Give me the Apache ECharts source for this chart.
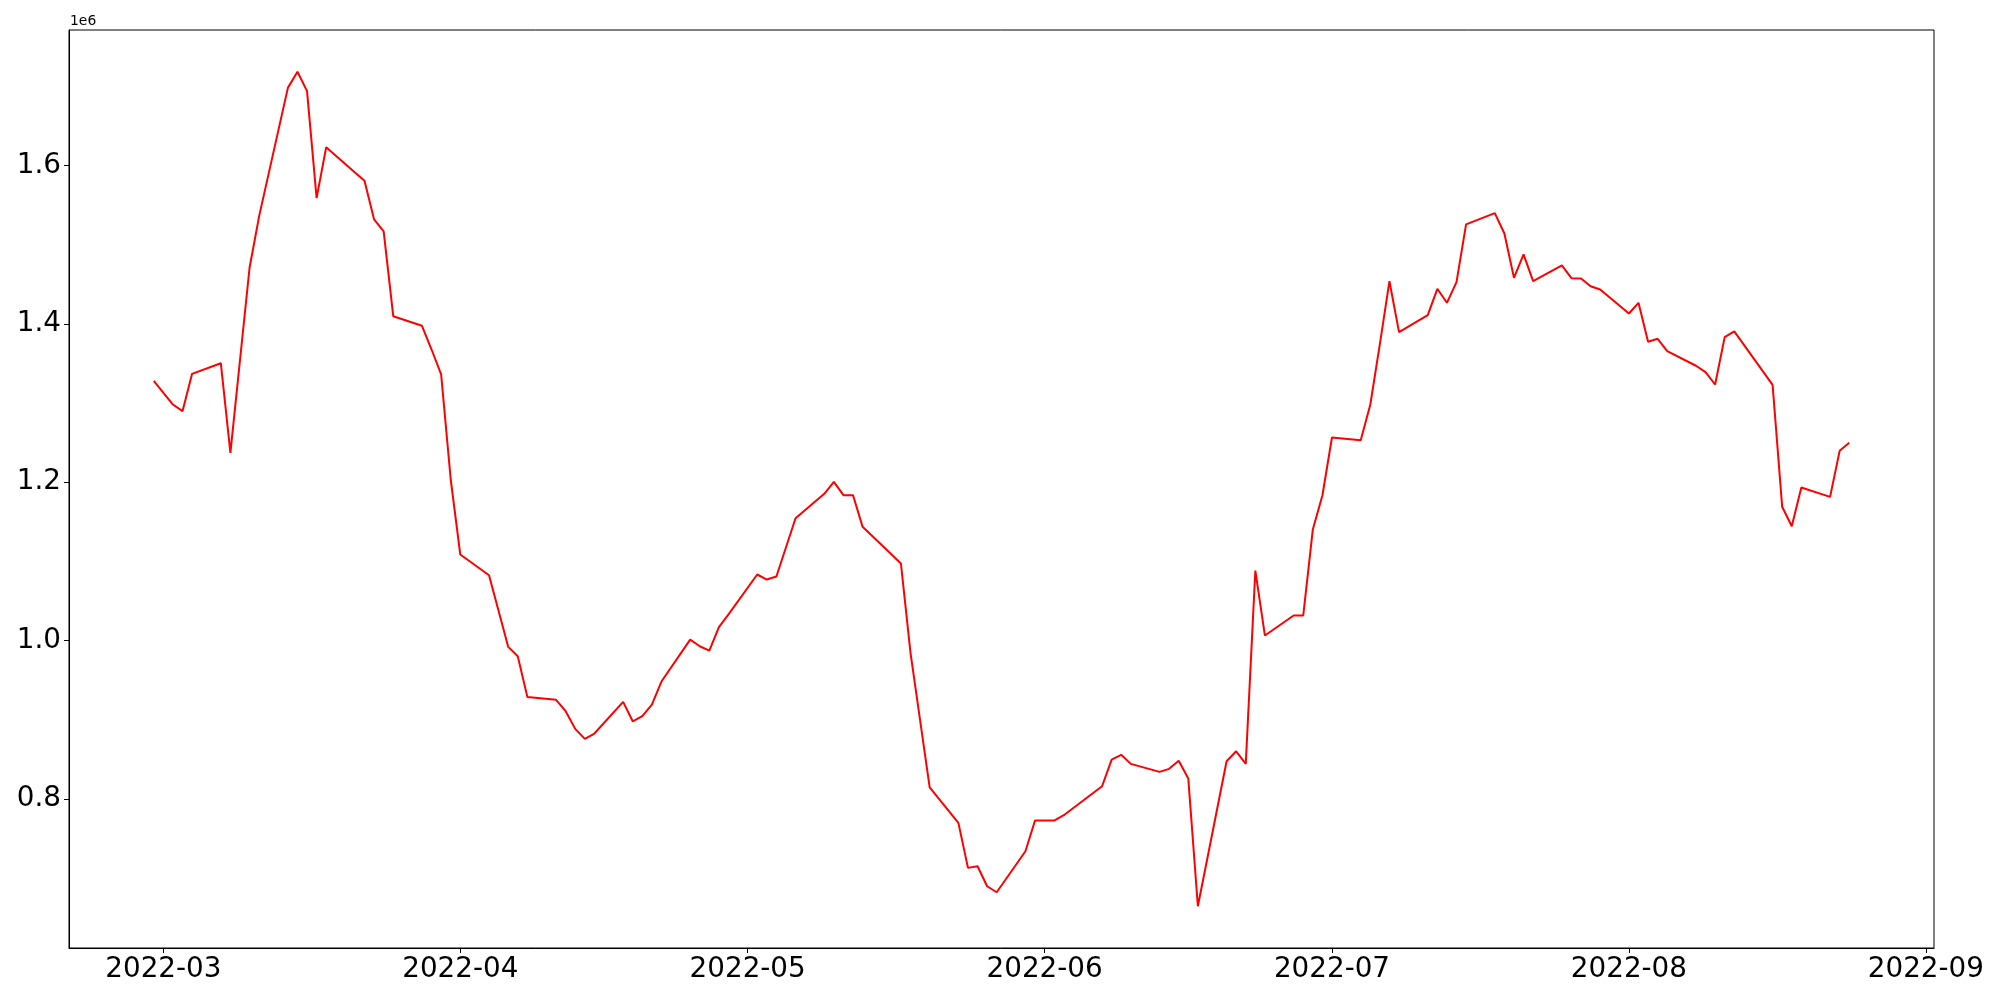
<!DOCTYPE html>
<html>
<head>
<meta charset="utf-8">
<script src="https://cdn.jsdelivr.net/npm/echarts@6/dist/echarts.min.js"></script>
<style>
html,body{margin:0;padding:0;background:#fff;}
#chart{width:2000px;height:1000px;}
</style>
</head>
<body>
<div id="chart"></div>
<script>
const dates = ['2022-02-28','2022-03-02','2022-03-03','2022-03-04','2022-03-07','2022-03-08','2022-03-10','2022-03-11','2022-03-14','2022-03-15','2022-03-16','2022-03-17','2022-03-18','2022-03-21','2022-03-22','2022-03-23','2022-03-24','2022-03-25','2022-03-28','2022-03-29','2022-03-30','2022-03-31','2022-04-01','2022-04-04','2022-04-05','2022-04-06','2022-04-07','2022-04-08','2022-04-11','2022-04-12','2022-04-13','2022-04-14','2022-04-15','2022-04-18','2022-04-19','2022-04-20','2022-04-21','2022-04-22','2022-04-25','2022-04-26','2022-04-27','2022-04-28','2022-04-29','2022-05-02','2022-05-03','2022-05-04','2022-05-06','2022-05-09','2022-05-10','2022-05-11','2022-05-12','2022-05-13','2022-05-16','2022-05-17','2022-05-18','2022-05-19','2022-05-20','2022-05-23','2022-05-24','2022-05-25','2022-05-26','2022-05-27','2022-05-30','2022-05-31','2022-06-02','2022-06-03','2022-06-07','2022-06-08','2022-06-09','2022-06-10','2022-06-13','2022-06-14','2022-06-15','2022-06-16','2022-06-17','2022-06-20','2022-06-21','2022-06-22','2022-06-23','2022-06-24','2022-06-27','2022-06-28','2022-06-29','2022-06-30','2022-07-01','2022-07-04','2022-07-05','2022-07-06','2022-07-07','2022-07-08','2022-07-11','2022-07-12','2022-07-13','2022-07-14','2022-07-15','2022-07-18','2022-07-19','2022-07-20','2022-07-21','2022-07-22','2022-07-25','2022-07-26','2022-07-27','2022-07-28','2022-07-29','2022-08-01','2022-08-02','2022-08-03','2022-08-04','2022-08-05','2022-08-08','2022-08-09','2022-08-10','2022-08-11','2022-08-12','2022-08-16','2022-08-17','2022-08-18','2022-08-19','2022-08-22','2022-08-23','2022-08-24'];

const values = [1328000,1298000,1289600,1336800,1350200,1237000,1470800,1536000,1698000,1718400,1693900,1558700,1623100,1591200,1580700,1531800,1516600,1409600,1397500,1367500,1336000,1203300,1108500,1082400,1037100,991900,980100,928700,925000,910600,888300,875700,882400,922400,897900,904300,919000,948100,1001100,992700,987200,1016700,1033000,1083300,1076900,1080700,1154400,1185200,1200400,1183500,1183500,1143500,1108800,1097200,984300,899400,814500,769600,712700,714700,689500,681900,733700,772500,772500,779200,815800,849500,855500,844100,834000,837800,847900,825500,664200,847400,860000,844100,1088300,1006200,1031500,1031500,1140100,1183100,1256400,1253000,1297700,1374400,1453800,1389400,1410900,1444200,1426500,1452600,1525500,1539800,1514100,1458100,1487600,1453800,1473700,1457600,1457200,1447500,1443300,1413000,1426500,1377300,1381000,1365400,1347000,1339000,1323300,1383100,1390500,1322900,1168800,1144300,1193200,1181400,1239500,1249700];

const xTickLabels = ['2022-03','2022-04','2022-05','2022-06','2022-07','2022-08','2022-09'];
const yTickValues = [800000,1000000,1200000,1400000,1600000];

function toTs(s){ const p = s.split('-').map(Number); return Date.UTC(p[0], p[1]-1, p[2] || 1); }

const seriesData = dates.map((d,i)=>[toTs(d), values[i]]);
const xTickTs = xTickLabels.map(toTs);
const tsToLabel = {};
xTickTs.forEach((t,i)=>{ tsToLabel[t] = xTickLabels[i]; });

const t0 = toTs(dates[0]), t1 = toTs(dates[dates.length-1]);
const xPad = (t1 - t0) * 0.05;
const vMin = Math.min(...values), vMax = Math.max(...values);
const yPad = (vMax - vMin) * 0.05;

const font = 'DejaVu Sans';
const chart = echarts.init(document.getElementById('chart'), null, {renderer:'canvas'});
chart.setOption({
  animation: false,
  backgroundColor: '#fff',
  grid: {left: 69, right: 66, top: 30, bottom: 52, show: true, borderColor: '#000', borderWidth: 1, backgroundColor: 'transparent', containLabel: false, outerBoundsMode: 'none'},
  xAxis: {
    type: 'value',
    min: t0 - xPad,
    max: t1 + xPad,
    axisLine: {show: true, onZero: false, lineStyle: {color: '#000', width: 1}},
    axisTick: {show: true, length: 5, lineStyle: {color: '#000', width: 1}, customValues: xTickTs},
    axisLabel: {show: true, customValues: xTickTs, fontFamily: font, fontSize: 27.8, color: '#000', margin: 8,
      formatter: v => tsToLabel[v] || ''},
    splitLine: {show: false}
  },
  yAxis: {
    type: 'value',
    min: vMin - yPad,
    max: vMax + yPad,
    axisLine: {show: true, onZero: false, lineStyle: {color: '#000', width: 1}},
    axisTick: {show: true, length: 5, lineStyle: {color: '#000', width: 1}, customValues: yTickValues},
    axisLabel: {show: true, customValues: yTickValues, fontFamily: font, fontSize: 27.8, color: '#000', margin: 8,
      formatter: v => (v/1e6).toFixed(1)},
    splitLine: {show: false}
  },
  graphic: [{type: 'text', left: 70, top: 14, style: {text: '1e6', font: '13.9px "DejaVu Sans"', fill: '#000'}}],
  series: [{
    type: 'line',
    data: seriesData,
    showSymbol: false,
    symbol: 'none',
    lineStyle: {color: '#ff0000', width: 2},
    itemStyle: {color: '#ff0000'}
  }]
});
</script>
</body>
</html>
